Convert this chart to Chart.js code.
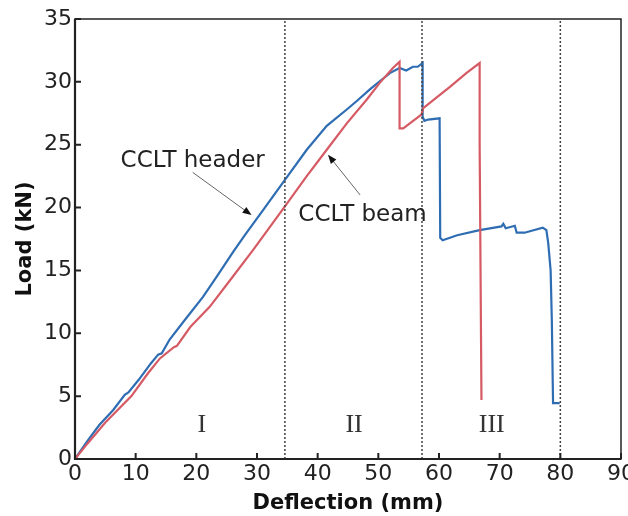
<!DOCTYPE html>
<html lang="en">
  <head>
    <meta charset="UTF-8" />
    <title>Load - deflection</title>
    <script src="https://cdn.jsdelivr.net/npm/chart.js"></script>
    <style>
      html,
      body {
        margin: 0;
        padding: 0;
        background: #ffffff;
      }
      #box {
        width: 628px;
        height: 516px;
      }
    </style>
  </head>
  <body>
    <div id="box"><canvas id="myChart" width="628" height="516"></canvas></div>
    <script>
      // CCLT header (blue)
      const headerX = [0, 2, 4, 6.3, 8.2, 8.8, 10.5, 12.5, 13.7, 14.3, 15.6, 18, 21.1, 23.5, 26.1, 28, 31, 34.6, 38.2, 41.5, 44.8, 46.5, 48.6, 51.9, 53.5, 54.6, 55.7, 56.5, 57.3, 57.3, 57.6, 58.2, 60.1, 60.2, 60.6, 63, 66.7, 70.3, 70.6, 71.0, 72.5, 72.8, 74.1, 77.1, 77.7, 78.0, 78.4, 78.6, 78.8, 79.9];
      const headerY = [0, 1.4, 2.7, 3.9, 5.1, 5.3, 6.3, 7.6, 8.3, 8.4, 9.5, 11.0, 12.9, 14.6, 16.5, 17.8, 19.8, 22.2, 24.6, 26.5, 27.8, 28.5, 29.4, 30.7, 31.1, 30.9, 31.2, 31.2, 31.5, 27.2, 26.9, 27.0, 27.1, 17.6, 17.4, 17.8, 18.2, 18.5, 18.7, 18.35, 18.55, 18.0, 18.0, 18.4, 18.2, 17.2, 15.0, 11, 4.45, 4.45];

      // CCLT beam (red)
      const beamX = [0, 2, 5, 9.3, 12, 14, 16.3, 16.8, 19, 22.2, 26, 29.4, 34.6, 38.2, 41.5, 44.8, 48.1, 50.2, 52.4, 53.5, 53.5, 54.1, 57.1, 57.4, 61.8, 64.5, 66.7, 66.7, 67.0];
      const beamY = [0, 1.2, 2.9, 5.0, 6.8, 8.0, 8.9, 9.0, 10.5, 12.1, 14.5, 16.65, 20.1, 22.5, 24.6, 26.7, 28.6, 29.9, 31.1, 31.6, 26.3, 26.3, 27.4, 27.9, 29.6, 30.7, 31.5, 25, 4.7];

      // stage boundaries and stage names
      const stageBounds = [34.6, 57.2, 80];
      const stageNames = ["I", "II", "III"];
      const stageNameX = [20.9, 46.0, 68.7];
      const stageNameY = 2.7;

      const xMax = 90;
      const yMax = 35;

      const toPoints = (xs, ys) => xs.map((x, i) => ({ x: x, y: ys[i] }));

      const notes = [
        { text: "CCLT header", at: [19.4, 23.7], from: [19.4, 22.8], to: [29.1, 19.4] },
        { text: "CCLT beam", at: [47.4, 19.4], from: [47.0, 21.0], to: [41.7, 24.2] },
      ];

      const boundSets = stageBounds.map((b) => ({
        data: [
          { x: b, y: 0 },
          { x: b, y: yMax },
        ],
        showLine: true,
        borderColor: "#444",
        borderWidth: 1.5,
        borderDash: [2, 2],
        pointRadius: 0,
      }));

      const extras = {
        id: "extras",
        afterDatasetsDraw(chart) {
          const ctx = chart.ctx;
          const a = chart.chartArea;
          const xs = chart.scales.x;
          const ys = chart.scales.y;
          ctx.save();

          // frame
          ctx.strokeStyle = "#222";
          ctx.lineWidth = 1.5;
          ctx.strokeRect(a.left, a.top, a.right - a.left, a.bottom - a.top);
          ctx.lineWidth = 2.2;
          ctx.beginPath();
          ctx.moveTo(a.left, a.top);
          ctx.lineTo(a.left, a.bottom);
          ctx.lineTo(a.right, a.bottom);
          ctx.stroke();

          // inward ticks
          ctx.lineWidth = 2;
          ctx.beginPath();
          xs.ticks.forEach((t) => {
            const px = xs.getPixelForValue(t.value);
            ctx.moveTo(px, a.bottom);
            ctx.lineTo(px, a.bottom - 6);
          });
          ys.ticks.forEach((t) => {
            const py = ys.getPixelForValue(t.value);
            ctx.moveTo(a.left, py);
            ctx.lineTo(a.left + 6, py);
          });
          ctx.stroke();

          // stage names
          ctx.fillStyle = "#333";
          ctx.font = '26px "Liberation Serif"';
          ctx.textAlign = "center";
          ctx.textBaseline = "middle";
          stageNames.forEach((s, i) => {
            ctx.fillText(s, xs.getPixelForValue(stageNameX[i]), ys.getPixelForValue(stageNameY));
          });

          // annotations with arrows
          ctx.font = '23px "DejaVu Sans"';
          notes.forEach((n) => {
            ctx.fillStyle = "#222";
            ctx.fillText(n.text, xs.getPixelForValue(n.at[0]), ys.getPixelForValue(n.at[1]));
            const x1 = xs.getPixelForValue(n.from[0]);
            const y1 = ys.getPixelForValue(n.from[1]);
            const x2 = xs.getPixelForValue(n.to[0]);
            const y2 = ys.getPixelForValue(n.to[1]);
            const ang = Math.atan2(y2 - y1, x2 - x1);
            ctx.strokeStyle = "#666";
            ctx.lineWidth = 1;
            ctx.beginPath();
            ctx.moveTo(x1, y1);
            ctx.lineTo(x2 - 6 * Math.cos(ang), y2 - 6 * Math.sin(ang));
            ctx.stroke();
            ctx.fillStyle = "#111";
            ctx.beginPath();
            ctx.moveTo(x2, y2);
            ctx.lineTo(x2 - 9 * Math.cos(ang) + 3.5 * Math.sin(ang), y2 - 9 * Math.sin(ang) - 3.5 * Math.cos(ang));
            ctx.lineTo(x2 - 9 * Math.cos(ang) - 3.5 * Math.sin(ang), y2 - 9 * Math.sin(ang) + 3.5 * Math.cos(ang));
            ctx.closePath();
            ctx.fill();
          });
          ctx.restore();
        },
      };

      const tickFont = { family: "DejaVu Sans", size: 22 };
      const titleFont = { family: "DejaVu Sans", size: 21, weight: "bold" };

      new Chart(document.getElementById("myChart"), {
        type: "scatter",
        data: {
          datasets: [
            ...boundSets,
            {
              label: "CCLT beam",
              data: toPoints(beamX, beamY),
              showLine: true,
              borderColor: "#d65a64",
              borderWidth: 2.2,
              pointRadius: 0,
            },
            {
              label: "CCLT header",
              data: toPoints(headerX, headerY),
              showLine: true,
              borderColor: "#2f6db3",
              borderWidth: 2.2,
              pointRadius: 0,
            },
          ],
        },
        options: {
          responsive: false,
          animation: false,
          layout: { padding: { top: 19, right: 7, left: 0, bottom: 0 } },
          plugins: {
            legend: { display: false },
            tooltip: { enabled: false },
          },
          scales: {
            x: {
              type: "linear",
              min: 0,
              max: xMax,
              grid: { display: false, drawTicks: false },
              border: { display: false },
              ticks: { stepSize: 10, padding: 2, color: "#222", font: tickFont, maxRotation: 0 },
              title: { display: true, text: "Deflection (mm)", color: "#111", font: titleFont, padding: 0 },
              afterFit: (s) => {
                s.height = 57;
                s.paddingLeft = 0;
                s.paddingRight = 0;
              },
            },
            y: {
              min: 0,
              max: yMax,
              grid: { display: false, drawTicks: false },
              border: { display: false },
              ticks: { stepSize: 5, padding: 3, color: "#222", font: tickFont },
              title: { display: true, text: "Load (kN)", color: "#111", font: titleFont, padding: { top: 13, bottom: 0 } },
              afterFit: (s) => {
                s.width = 75;
                s.paddingTop = 0;
                s.paddingBottom = 0;
              },
            },
          },
        },
        plugins: [extras],
      });
    </script>
  </body>
</html>
